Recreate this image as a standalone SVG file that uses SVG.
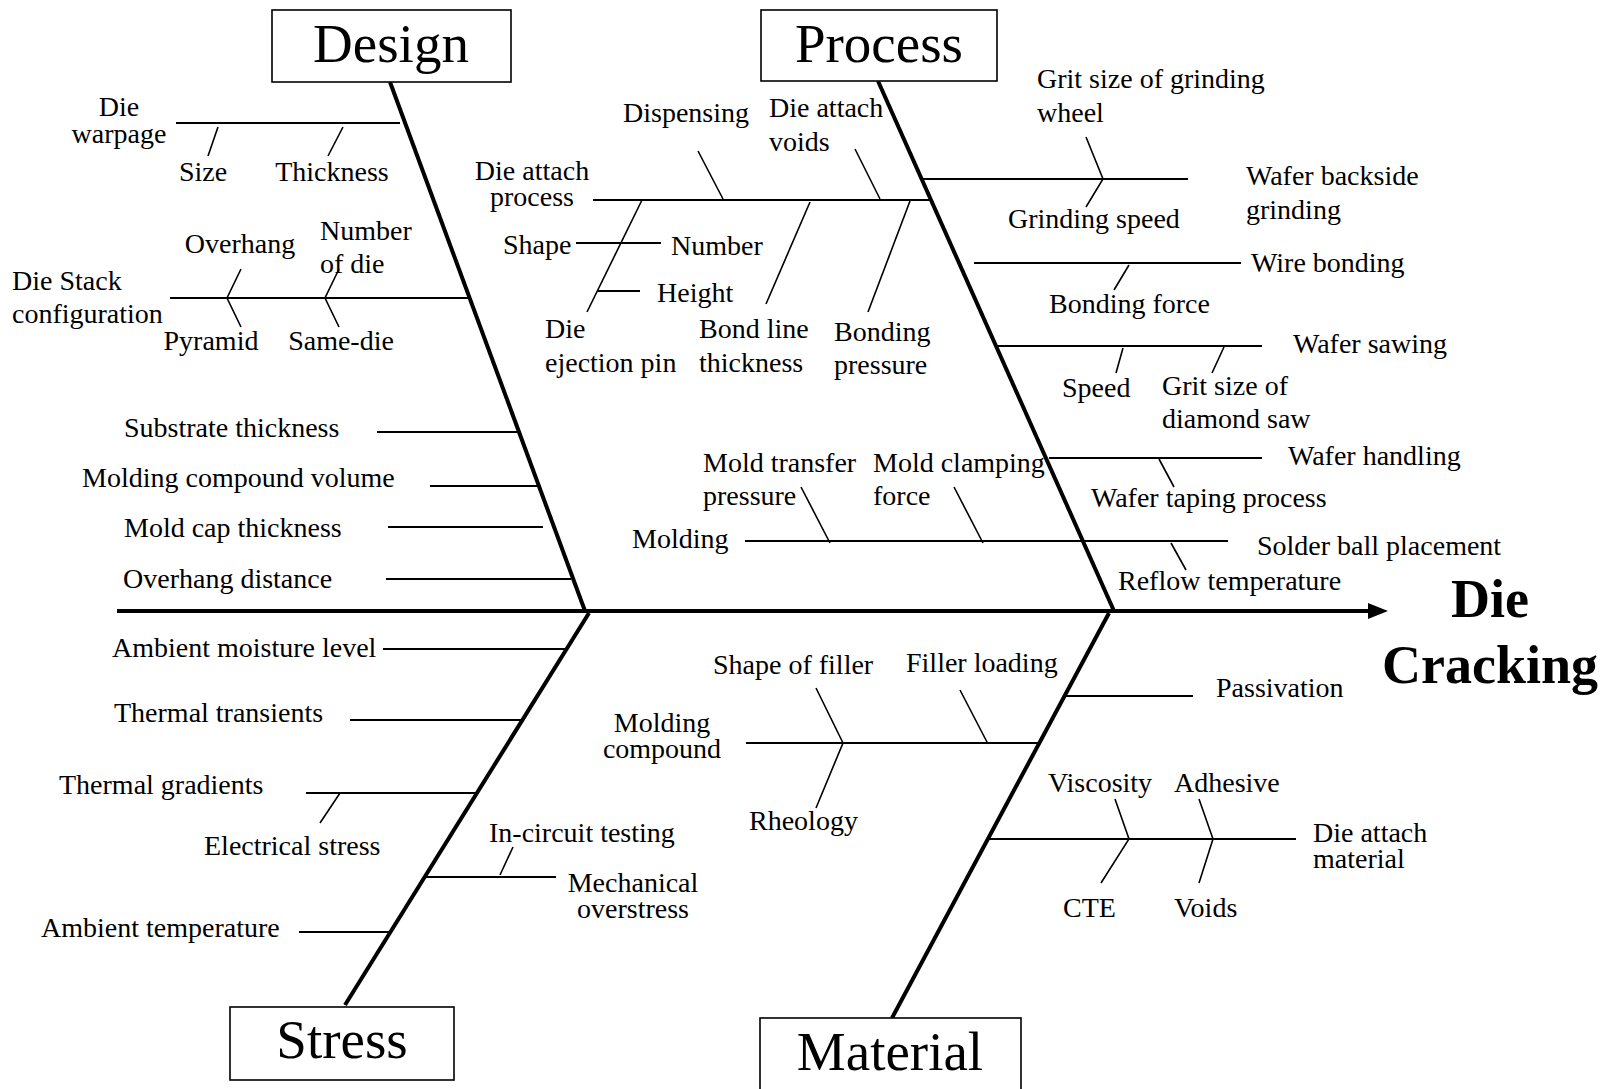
<svg xmlns="http://www.w3.org/2000/svg" width="1608" height="1089" viewBox="0 0 1608 1089">
<style>
text{font-family:"Liberation Serif","Times New Roman",serif;font-size:28px;fill:#000}
.t{font-size:55px}
.e{font-size:54px;font-weight:bold}
.m{text-anchor:middle}
.box{fill:#fff;stroke:#000;stroke-width:1.6}
.bone{stroke:#000;stroke-width:4;fill:none}
.br{stroke:#000;stroke-width:2;fill:none}
.tk{stroke:#000;stroke-width:1.6;fill:none}
</style>
<rect width="1608" height="1089" fill="#fff"/>
<g id="connectors">
  <line class="bone" x1="117" y1="611" x2="1372" y2="611"/>
  <polygon points="1368,603 1388,611 1368,619" fill="#000"/>
  <line class="bone" x1="390" y1="82" x2="585" y2="611"/>
  <line class="bone" x1="878" y1="81" x2="1114" y2="611"/>
  <line class="bone" x1="589" y1="613" x2="345" y2="1005"/>
  <line class="bone" x1="1109" y1="613" x2="892" y2="1018"/>
  <!-- Design -->
  <line class="br" x1="176" y1="123" x2="400" y2="123"/>
  <line class="tk" x1="218" y1="127" x2="208" y2="156"/>
  <line class="tk" x1="343" y1="127" x2="328" y2="156"/>
  <line class="br" x1="170" y1="298" x2="468" y2="298"/>
  <polyline class="tk" points="241,269 227,298 241,327"/>
  <polyline class="tk" points="339,269 325,298 339,327"/>
  <line class="br" x1="377" y1="432" x2="518" y2="432"/>
  <line class="br" x1="430" y1="486" x2="537" y2="486"/>
  <line class="br" x1="388" y1="527" x2="543" y2="527"/>
  <line class="br" x1="386" y1="579" x2="571" y2="579"/>
  <!-- Process -->
  <line class="br" x1="593" y1="200" x2="930" y2="200"/>
  <line class="tk" x1="698" y1="151" x2="723" y2="199"/>
  <line class="tk" x1="855" y1="149" x2="880" y2="199"/>
  <line class="tk" x1="642" y1="200" x2="587" y2="312"/>
  <line class="br" x1="576" y1="243" x2="661" y2="243"/>
  <line class="br" x1="598" y1="291" x2="640" y2="291"/>
  <line class="tk" x1="810" y1="202" x2="766" y2="304"/>
  <line class="tk" x1="910" y1="201" x2="868" y2="312"/>
  <line class="br" x1="920" y1="179" x2="1188" y2="179"/>
  <polyline class="tk" points="1086,137 1103,179 1086,207"/>
  <line class="br" x1="974" y1="263" x2="1241" y2="263"/>
  <line class="tk" x1="1129" y1="265" x2="1114" y2="290"/>
  <line class="br" x1="996" y1="346" x2="1262" y2="346"/>
  <line class="tk" x1="1123" y1="348" x2="1116" y2="373"/>
  <line class="tk" x1="1224" y1="347" x2="1212" y2="373"/>
  <line class="br" x1="1049" y1="458" x2="1262" y2="458"/>
  <line class="tk" x1="1159" y1="459" x2="1174" y2="487"/>
  <line class="br" x1="745" y1="541" x2="1228" y2="541"/>
  <line class="tk" x1="801" y1="487" x2="830" y2="543"/>
  <line class="tk" x1="954" y1="487" x2="983" y2="543"/>
  <line class="tk" x1="1171" y1="543" x2="1186" y2="570"/>
  <!-- Stress -->
  <line class="br" x1="383" y1="649" x2="568" y2="649"/>
  <line class="br" x1="350" y1="720" x2="523" y2="720"/>
  <line class="br" x1="306" y1="793" x2="477" y2="793"/>
  <line class="tk" x1="340" y1="793" x2="320" y2="823"/>
  <line class="br" x1="425" y1="877" x2="556" y2="877"/>
  <line class="tk" x1="513" y1="847" x2="500" y2="875"/>
  <line class="br" x1="299" y1="932" x2="389" y2="932"/>
  <!-- Material -->
  <line class="br" x1="1065" y1="696" x2="1193" y2="696"/>
  <line class="br" x1="746" y1="743" x2="1040" y2="743"/>
  <polyline class="tk" points="816,688 843,743 816,808"/>
  <line class="tk" x1="960" y1="690" x2="988" y2="744"/>
  <line class="br" x1="988" y1="839" x2="1296" y2="839"/>
  <polyline class="tk" points="1115,799 1129,839 1101,883"/>
  <polyline class="tk" points="1199,799 1213,839 1199,883"/>
</g>
<g id="design"><rect class="box" x="272" y="10" width="239" height="72"/><text class="t m" x="391" y="62">Design</text></g>
<g id="process"><rect class="box" x="761" y="10" width="236" height="71"/><text class="t m" x="879" y="62">Process</text></g>
<g id="stress"><rect class="box" x="230" y="1007" width="224" height="73"/><text class="t m" x="342" y="1058">Stress</text></g>
<g id="material"><rect class="box" x="760" y="1018" width="261" height="80"/><text class="t m" x="890" y="1070">Material</text></g>
<g id="effect"><text class="e m" x="1490" y="617">Die</text><text class="e m" x="1490" y="683">Cracking</text></g>
<g id="die-warpage"><text class="m" x="119" y="116">Die</text><text class="m" x="119" y="143">warpage</text></g>
<g id="size"><text class="m" x="203" y="181">Size</text></g>
<g id="thickness"><text class="m" x="332" y="181">Thickness</text></g>
<g id="die-stack"><text x="12" y="290">Die Stack</text><text x="12" y="323">configuration</text></g>
<g id="overhang"><text class="m" x="240" y="253">Overhang</text></g>
<g id="number-of-die"><text x="320" y="240">Number</text><text x="320" y="273">of die</text></g>
<g id="pyramid"><text class="m" x="211" y="350">Pyramid</text></g>
<g id="same-die"><text class="m" x="341" y="350">Same-die</text></g>
<g id="substrate-thickness"><text x="124" y="437">Substrate thickness</text></g>
<g id="molding-compound-volume"><text x="82" y="487">Molding compound volume</text></g>
<g id="mold-cap-thickness"><text x="124" y="537">Mold cap thickness</text></g>
<g id="overhang-distance"><text x="123" y="588">Overhang distance</text></g>
<g id="dispensing"><text x="623" y="122">Dispensing</text></g>
<g id="die-attach-voids"><text x="769" y="117">Die attach</text><text x="769" y="151">voids</text></g>
<g id="die-attach-process"><text class="m" x="532" y="180">Die attach</text><text class="m" x="532" y="206">process</text></g>
<g id="shape"><text x="503" y="254">Shape</text></g>
<g id="number"><text x="671" y="255">Number</text></g>
<g id="height"><text x="657" y="302">Height</text></g>
<g id="die-ejection-pin"><text x="545" y="338">Die</text><text x="545" y="372">ejection pin</text></g>
<g id="bond-line-thickness"><text x="699" y="338">Bond line</text><text x="699" y="372">thickness</text></g>
<g id="bonding-pressure"><text x="834" y="341">Bonding</text><text x="834" y="374">pressure</text></g>
<g id="grit-size-wheel"><text x="1037" y="88">Grit size of grinding</text><text x="1037" y="122">wheel</text></g>
<g id="grinding-speed"><text x="1008" y="228">Grinding speed</text></g>
<g id="wafer-backside-grinding"><text x="1246" y="185">Wafer backside</text><text x="1246" y="219">grinding</text></g>
<g id="wire-bonding"><text x="1251" y="272">Wire bonding</text></g>
<g id="bonding-force"><text x="1049" y="313">Bonding force</text></g>
<g id="wafer-sawing"><text x="1293" y="353">Wafer sawing</text></g>
<g id="speed"><text x="1062" y="397">Speed</text></g>
<g id="grit-size-saw"><text x="1162" y="395">Grit size of</text><text x="1162" y="428">diamond saw</text></g>
<g id="wafer-handling"><text x="1288" y="465">Wafer handling</text></g>
<g id="wafer-taping"><text x="1091" y="507">Wafer taping process</text></g>
<g id="solder-ball"><text x="1257" y="555">Solder ball placement</text></g>
<g id="reflow"><text x="1118" y="590">Reflow temperature</text></g>
<g id="mold-transfer"><text x="703" y="472">Mold transfer</text><text x="703" y="505">pressure</text></g>
<g id="mold-clamping"><text x="873" y="472">Mold clamping</text><text x="873" y="505">force</text></g>
<g id="molding"><text x="632" y="548">Molding</text></g>
<g id="ambient-moisture"><text x="112" y="657">Ambient moisture level</text></g>
<g id="thermal-transients"><text x="114" y="722">Thermal transients</text></g>
<g id="thermal-gradients"><text x="59" y="794">Thermal gradients</text></g>
<g id="electrical-stress"><text x="204" y="855">Electrical stress</text></g>
<g id="in-circuit"><text x="489" y="842">In-circuit testing</text></g>
<g id="mechanical-overstress"><text class="m" x="633" y="892">Mechanical</text><text class="m" x="633" y="918">overstress</text></g>
<g id="ambient-temperature"><text x="41" y="937">Ambient temperature</text></g>
<g id="shape-of-filler"><text x="713" y="674">Shape of filler</text></g>
<g id="filler-loading"><text x="906" y="672">Filler loading</text></g>
<g id="molding-compound"><text class="m" x="662" y="732">Molding</text><text class="m" x="662" y="758">compound</text></g>
<g id="rheology"><text x="749" y="830">Rheology</text></g>
<g id="passivation"><text x="1216" y="697">Passivation</text></g>
<g id="viscosity"><text x="1048" y="792">Viscosity</text></g>
<g id="adhesive"><text x="1174" y="792">Adhesive</text></g>
<g id="cte"><text x="1063" y="917">CTE</text></g>
<g id="voids"><text x="1174" y="917">Voids</text></g>
<g id="die-attach-material"><text x="1313" y="842">Die attach</text><text x="1313" y="868">material</text></g>
</svg>
